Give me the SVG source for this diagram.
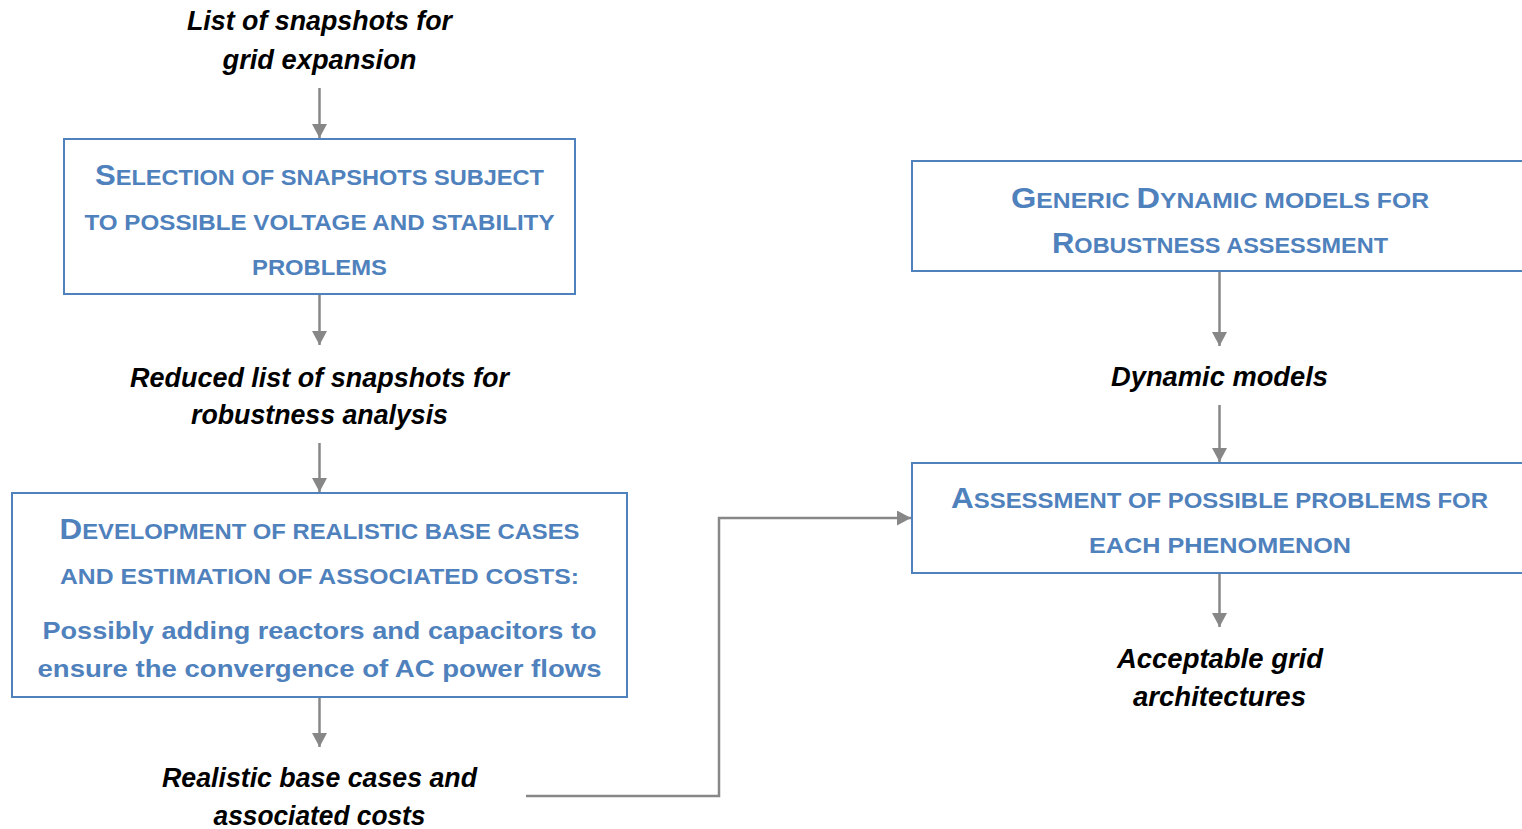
<svg xmlns="http://www.w3.org/2000/svg" width="1522" height="829" viewBox="0 0 1522 829">
<style>
.box{fill:#fff;stroke:#4F81BD;stroke-width:2}
.hd{font-family:"Liberation Sans",Arial,sans-serif;font-weight:bold;font-size:22px;fill:#4F81BD;text-anchor:middle}
.hd .c{font-size:29px}
.bd{font-family:"Liberation Sans",Arial,sans-serif;font-weight:bold;font-size:24px;fill:#4F81BD;text-anchor:middle}
.lb{font-family:"Liberation Sans",Arial,sans-serif;font-weight:bold;font-style:italic;font-size:27px;fill:#000;text-anchor:middle}
.cn{fill:none;stroke:#878787;stroke-width:2.5}
</style>
<defs>
<marker id="ah" markerUnits="userSpaceOnUse" markerWidth="15" markerHeight="16" refX="14" refY="7.5" orient="auto">
<path d="M0,0 L14,7.5 L0,15 z" fill="#878787"/>
</marker>
</defs>
<g id="connectors">
<line class="cn" x1="319.5" y1="88" x2="319.5" y2="138" marker-end="url(#ah)"/>
<line class="cn" x1="319.5" y1="295" x2="319.5" y2="345" marker-end="url(#ah)"/>
<line class="cn" x1="319.5" y1="443" x2="319.5" y2="492" marker-end="url(#ah)"/>
<line class="cn" x1="319.5" y1="698" x2="319.5" y2="747" marker-end="url(#ah)"/>
<line class="cn" x1="1219.5" y1="272" x2="1219.5" y2="346" marker-end="url(#ah)"/>
<line class="cn" x1="1219.5" y1="405" x2="1219.5" y2="462" marker-end="url(#ah)"/>
<line class="cn" x1="1219.5" y1="574" x2="1219.5" y2="627" marker-end="url(#ah)"/>
<polyline class="cn" points="526,796 719,796 719,518 911,518" marker-end="url(#ah)"/>
</g>
<g id="label-list">
<text class="lb" x="319.5" y="30" textLength="265" lengthAdjust="spacingAndGlyphs">List of snapshots for</text>
<text class="lb" x="319.5" y="69" textLength="194" lengthAdjust="spacingAndGlyphs">grid expansion</text>
</g>
<g id="node-selection">
<rect class="box" x="64" y="139" width="511" height="155"/>
<text class="hd" x="319.5" y="185" textLength="449" lengthAdjust="spacingAndGlyphs"><tspan class="c">S</tspan>ELECTION OF SNAPSHOTS SUBJECT</text>
<text class="hd" x="319.5" y="230" textLength="470" lengthAdjust="spacingAndGlyphs">TO POSSIBLE VOLTAGE AND STABILITY</text>
<text class="hd" x="319.5" y="275" textLength="135" lengthAdjust="spacingAndGlyphs">PROBLEMS</text>
</g>
<g id="label-reduced">
<text class="lb" x="319.5" y="387" textLength="379" lengthAdjust="spacingAndGlyphs">Reduced list of snapshots for</text>
<text class="lb" x="319.5" y="424" textLength="257" lengthAdjust="spacingAndGlyphs">robustness analysis</text>
</g>
<g id="node-development">
<rect class="box" x="12" y="493" width="615" height="204"/>
<text class="hd" x="319.5" y="539" textLength="520" lengthAdjust="spacingAndGlyphs"><tspan class="c">D</tspan>EVELOPMENT OF REALISTIC BASE CASES</text>
<text class="hd" x="319.5" y="584" textLength="519" lengthAdjust="spacingAndGlyphs">AND ESTIMATION OF ASSOCIATED COSTS:</text>
<text class="bd" x="319.5" y="639" textLength="554" lengthAdjust="spacingAndGlyphs">Possibly adding reactors and capacitors to</text>
<text class="bd" x="319.5" y="677" textLength="564" lengthAdjust="spacingAndGlyphs">ensure the convergence of AC power flows</text>
</g>
<g id="label-realistic">
<text class="lb" x="319.5" y="787" textLength="315" lengthAdjust="spacingAndGlyphs">Realistic base cases and</text>
<text class="lb" x="319.5" y="825" textLength="212" lengthAdjust="spacingAndGlyphs">associated costs</text>
</g>
<g id="node-generic">
<rect class="box" x="912" y="161" width="630" height="110"/>
<text class="hd" x="1220" y="208" textLength="418" lengthAdjust="spacingAndGlyphs"><tspan class="c">G</tspan>ENERIC <tspan class="c">D</tspan>YNAMIC MODELS FOR</text>
<text class="hd" x="1220" y="253" textLength="336" lengthAdjust="spacingAndGlyphs"><tspan class="c">R</tspan>OBUSTNESS ASSESSMENT</text>
</g>
<g id="label-dynamic">
<text class="lb" x="1219.5" y="386" textLength="217" lengthAdjust="spacingAndGlyphs">Dynamic models</text>
</g>
<g id="node-assessment">
<rect class="box" x="912" y="463" width="630" height="110"/>
<text class="hd" x="1219.5" y="508" textLength="537" lengthAdjust="spacingAndGlyphs"><tspan class="c">A</tspan>SSESSMENT OF POSSIBLE PROBLEMS FOR</text>
<text class="hd" x="1220" y="553" textLength="262" lengthAdjust="spacingAndGlyphs">EACH PHENOMENON</text>
</g>
<g id="label-acceptable">
<text class="lb" x="1220" y="668" textLength="206" lengthAdjust="spacingAndGlyphs">Acceptable grid</text>
<text class="lb" x="1219.5" y="706" textLength="173" lengthAdjust="spacingAndGlyphs">architectures</text>
</g>
</svg>
